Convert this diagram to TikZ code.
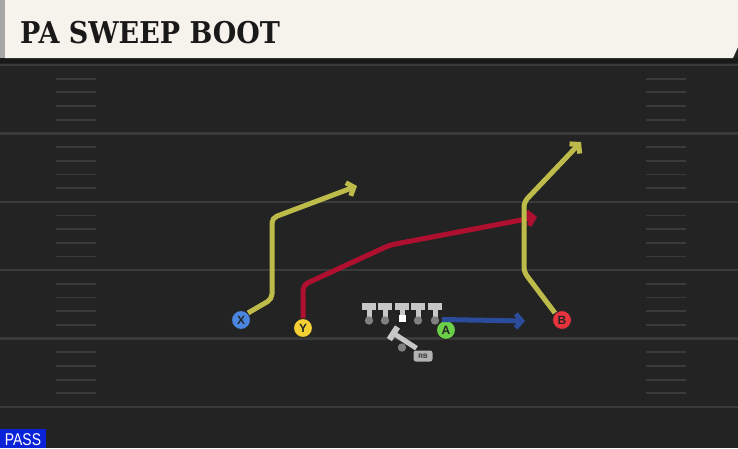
\documentclass[tikz,border=0pt]{standalone}
\usepackage{fontspec}
\newfontfamily\titlefont{DejaVu Serif}
\newfontfamily\tagfont{Liberation Sans}
\usetikzlibrary{arrows.meta}
\definecolor{turf}{HTML}{232323}
\definecolor{yardline}{HTML}{3A3A3A}
\definecolor{cream}{HTML}{F5F3EC}
\definecolor{routeyellow}{HTML}{BDBC4B}
\definecolor{routered}{HTML}{B0102F}
\definecolor{routeblue}{HTML}{2B4C9B}
\definecolor{xblue}{HTML}{4A86E0}
\definecolor{yyellow}{HTML}{F4D034}
\definecolor{agreen}{HTML}{6BCF48}
\definecolor{bred}{HTML}{E8333D}
\definecolor{passblue}{HTML}{0A22D8}
\begin{document}
\begin{tikzpicture}[x=1pt,y=-1pt,
		player/.style={circle, draw=black!85, line width=1pt, inner sep=0pt, minimum size=19pt,
			font=\tagfont\bfseries\fontsize{12}{12}\selectfont, text=black!85},
		route/.style={line width=5pt, rounded corners=5pt, -{Straight Barb[length=6pt,width=14pt]}}]
		\useasboundingbox (0,0) rectangle (738,448);
		\fill[turf] (0,0) rectangle (738,448);
		% yard lines and hash marks
		\foreach \k in {0,...,5} {
			\draw[yardline, line width=2.4pt] (0,65+68.4*\k) -- (738,65+68.4*\k);
		}
		\foreach \k in {0,...,4} {
			\foreach \h in {1,...,4} {
				\draw[yardline, line width=1.8pt] (56,65+68.4*\k+13.68*\h) -- (96,65+68.4*\k+13.68*\h);
				\draw[yardline, line width=1.8pt] (646,65+68.4*\k+13.68*\h) -- (686,65+68.4*\k+13.68*\h);
			}
		}
		% header
		\fill[black!90] (0,58) rectangle (738,63);
		\fill[cream] (5,0) -- (738,0) -- (738,47) -- (733,58) -- (5,58) -- cycle;
		\fill[black!35] (0,0) rectangle (5,58);
		\node[anchor=base west, inner sep=0pt, font=\titlefont\bfseries\fontsize{30}{30}\selectfont,
			text=black!90, xscale=0.9] (title) at (20,43) {PA SWEEP BOOT};
		% offensive line
		\foreach \x in {369,385,402,418,435} {
			\fill[black!22] (\x-7,303) rectangle (\x+7,309.5);
			\fill[black!22] (\x-2.5,304) rectangle (\x+2.5,318);
		}
		\foreach \x in {369,385,418,435} {
			\fill[black!50] (\x,320.5) circle (4.2);
		}
		\fill[white] (398.5,314.5) rectangle (405.5,321.5);
		% running back
		\fill[black!50] (402,347.5) circle (4.2);
		\begin{scope}[shift={(393,333)}, rotate=-33]
			\fill[black!22] (-2.5,-7.5) rectangle (3.5,7.5);
			\fill[black!22] (0,-2.5) rectangle (28,2.5);
		\end{scope}
		\node[fill=black!30, rounded corners=2.5pt, inner sep=0pt, minimum width=19pt, minimum height=11pt,
			font=\tagfont\bfseries\fontsize{6.5}{6.5}\selectfont, text=black!80] (rb) at (423,356) {RB};
		% eligible receivers
		\node[player, fill=xblue] (X) at (241,320) {X};
		\node[player, fill=yyellow] (Y) at (303,328) {Y};
		\node[player, fill=agreen] (A) at (446,330) {A};
		\node[player, fill=bred] (B) at (562,320) {B};
		\coordinate (xend) at (357,186);
		\coordinate (yend) at (537,217);
		\coordinate (aend) at (525,321);
		\coordinate (bend) at (581,142);
		% routes
		\draw[route, routeblue] (A.north) ++(-4,-0.5) -- (aend);
		\draw[route, routered] (Y.north) -- (303,285) -- (390,245) -- (yend);
		\draw[route, routeyellow] (X.north east) -- (272,299) -- (272,218) -- (xend);
		\draw[route, routeyellow] (B.north west) -- (524,272) -- (524,202) -- (bend);
		% play type
		\fill[passblue] (0,429) rectangle (46,448);
		\node[anchor=base, inner sep=0pt, text=white, font=\tagfont\fontsize{17}{17}\selectfont,
			xscale=0.82] (pass) at (23,445.5) {PASS};
\end{tikzpicture}
\end{document}
